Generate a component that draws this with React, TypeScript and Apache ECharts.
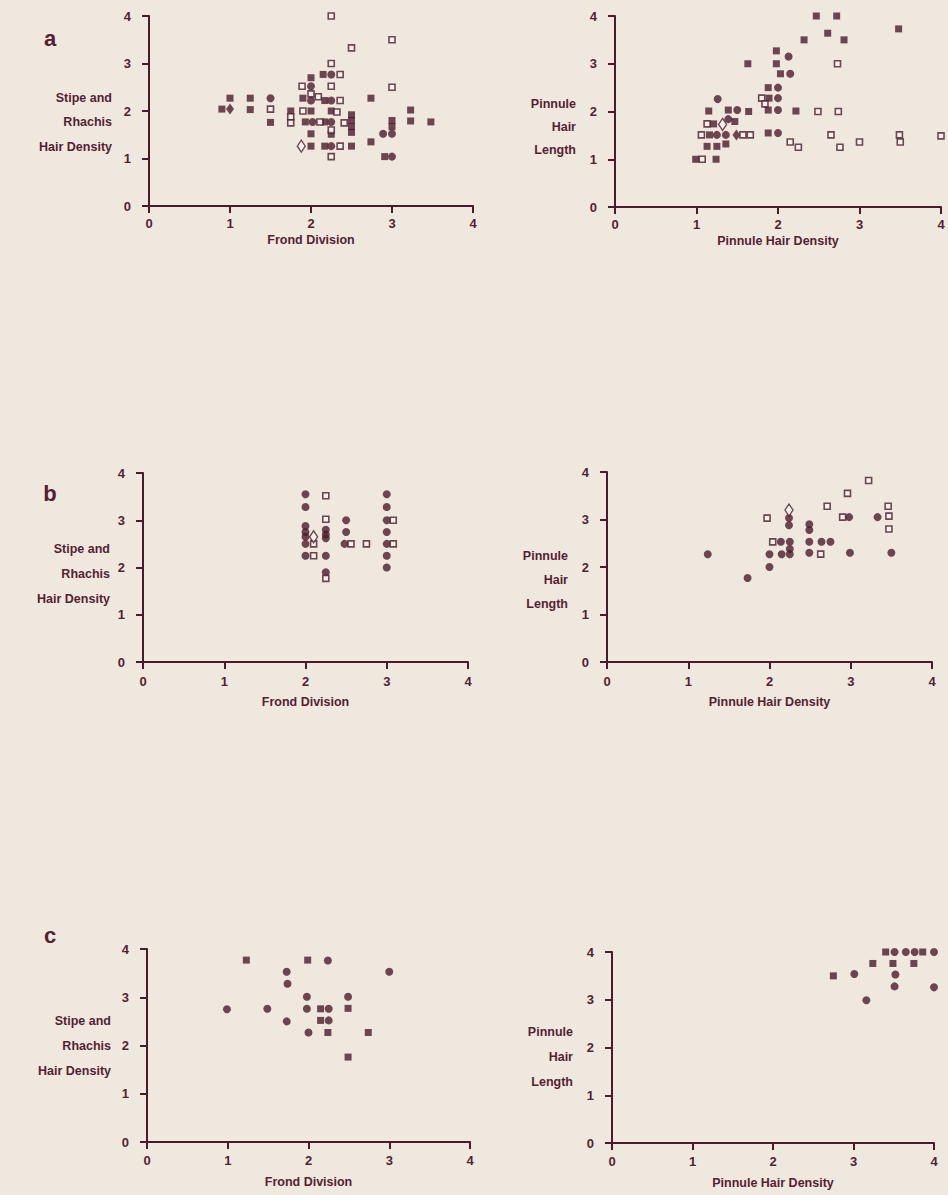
import React, { useEffect, useRef } from "react";
import * as echarts from "echarts";

// ---------- DATA ----------
// Panel a, left (Frond Division vs Stipe and Rhachis Hair Density)
const aLeftFilledSquares = [
  [0.9, 2.04], [1, 2.27], [1.25, 2.27], [1.25, 2.03], [1.5, 1.76], [1.75, 2.0], [1.9, 2.27],
  [2.0, 2.7], [2.15, 2.77], [2.0, 2.0], [2.25, 2.0], [2.17, 2.22], [1.93, 1.77], [2.17, 1.77],
  [2.0, 1.52], [2.25, 1.51], [2.5, 1.92], [2.5, 1.8], [2.5, 1.67], [2.5, 1.55], [2.74, 2.27],
  [2.74, 1.35], [2.0, 1.26], [2.17, 1.26], [2.5, 1.26], [3.0, 1.8], [3.0, 1.67], [3.23, 2.02],
  [3.23, 1.79], [3.48, 1.77], [2.91, 1.04],
];
const aLeftFilledCircles = [
  [1.5, 2.27], [2.25, 2.77], [2.0, 2.52], [2.0, 2.22], [2.25, 2.22], [2.02, 1.77], [2.25, 1.77],
  [2.25, 1.26], [2.89, 1.52], [3.0, 1.52], [3.0, 1.04],
];
const aLeftOpenSquares = [
  [2.25, 4], [2.5, 3.33], [3, 3.5], [2.25, 3], [2.36, 2.77], [1.89, 2.52], [2.25, 2.52], [3, 2.5],
  [2.0, 2.36], [2.09, 2.3], [2.36, 2.22], [1.5, 2.04], [1.75, 1.88], [1.75, 1.75], [1.9, 2.0],
  [2.32, 1.98], [2.11, 1.77], [2.41, 1.75], [2.25, 1.6], [2.36, 1.26], [2.25, 1.04],
];
const aLeftFilledDiamonds = [[1.0, 2.04]];
const aLeftOpenDiamonds = [[1.88, 1.26]];

// Panel a, right (Pinnule Hair Density vs Pinnule Hair Length)
const aRightFilledSquares = [
  [2.47, 4], [2.72, 4], [2.61, 3.64], [2.32, 3.5], [2.81, 3.5], [3.48, 3.73], [1.98, 3.27],
  [1.63, 3], [1.98, 3], [2.03, 2.79], [1.88, 2.5], [1.89, 2.28], [1.15, 2.01], [1.39, 2.03],
  [1.64, 2.0], [1.88, 2.03], [2.22, 2.01], [1.47, 1.79], [1.21, 1.74], [1.16, 1.51], [1.88, 1.55],
  [1.13, 1.27], [1.25, 1.27], [1.36, 1.32], [0.99, 1.0], [1.24, 1.0],
];
const aRightFilledCircles = [
  [2.13, 3.15], [2.15, 2.79], [2.0, 2.5], [2.0, 2.28], [1.26, 2.26], [1.5, 2.03], [2.0, 2.03],
  [1.39, 1.84], [1.25, 1.51], [1.36, 1.51], [2.0, 1.55],
];
const aRightOpenSquares = [
  [2.73, 3.0], [1.8, 2.28], [1.84, 2.16], [2.49, 2.0], [2.74, 2.0], [1.13, 1.74], [1.06, 1.51],
  [1.57, 1.51], [1.66, 1.51], [2.15, 1.36], [2.25, 1.25], [2.65, 1.51], [2.76, 1.25], [3.0, 1.36],
  [3.49, 1.51], [3.5, 1.36], [4.0, 1.49], [1.07, 1.0],
];
const aRightFilledDiamonds = [[1.49, 1.51]];
const aRightOpenDiamonds = [[1.32, 1.73]];

// Panel b, left
const bLeftFilledCircles = [
  [2, 3.55], [2, 3.28], [2, 2.88], [2, 2.75], [2, 2.65], [2, 2.5], [2, 2.25], [2.25, 2.8],
  [2.25, 2.7], [2.25, 2.62], [2.25, 2.25], [2.25, 1.9], [2.5, 3.0], [2.5, 2.75], [2.48, 2.5],
  [3, 3.55], [3, 3.28], [3, 3.0], [3, 2.75], [3, 2.5], [3, 2.25], [3, 2.0],
];
const bLeftOpenSquares = [
  [2.1, 2.5], [2.1, 2.25], [2.25, 3.52], [2.25, 3.02], [2.25, 1.77], [2.56, 2.5], [2.75, 2.5],
  [3.08, 3.0], [3.08, 2.5],
];
const bLeftOpenDiamonds = [[2.1, 2.65]];

// Panel b, right
const bRightFilledCircles = [
  [1.24, 2.27], [1.73, 1.77], [2.0, 2.0], [2.0, 2.27], [2.24, 3.03], [2.24, 2.88], [2.14, 2.53],
  [2.25, 2.53], [2.15, 2.27], [2.25, 2.38], [2.25, 2.27], [2.49, 2.9], [2.49, 2.78], [2.49, 2.53],
  [2.64, 2.53], [2.75, 2.53], [2.49, 2.3], [2.98, 3.05], [2.99, 2.3], [3.33, 3.05], [3.5, 2.3],
];
const bRightOpenSquares = [
  [1.97, 3.03], [2.04, 2.53], [2.63, 2.27], [2.71, 3.28], [2.96, 3.55], [3.22, 3.82], [2.9, 3.05],
  [3.46, 3.28], [3.47, 3.07], [3.47, 2.8],
];
const bRightOpenDiamonds = [[2.24, 3.2]];

// Panel c, left
const cLeftFilledSquares = [
  [1.23, 3.77], [1.99, 3.77], [2.15, 2.76], [2.15, 2.52], [2.24, 2.27], [2.49, 2.77], [2.49, 1.76],
  [2.74, 2.27],
];
const cLeftFilledCircles = [
  [0.99, 2.75], [1.49, 2.76], [1.73, 3.53], [1.74, 3.28], [1.73, 2.5], [1.98, 3.01], [1.98, 2.76],
  [2.0, 2.27], [2.24, 4.02], [2.24, 3.76], [2.25, 2.76], [2.25, 2.52], [2.49, 3.01], [3.0, 3.53],
];

// Panel c, right
const cRightFilledSquares = [
  [2.75, 3.5], [3.24, 3.76], [3.4, 4.0], [3.49, 3.76], [3.86, 4.0], [3.75, 3.76],
];
const cRightFilledCircles = [
  [2.85, 4.02], [3.01, 3.54], [3.16, 2.99], [3.51, 4.0], [3.52, 3.53], [3.51, 3.28], [3.65, 4.0],
  [3.76, 4.0], [4.0, 4.0], [4.0, 3.26],
];

const axisTicks = [0, 1, 2, 3, 4];
const xTitles = ["Frond Division", "Pinnule Hair Density"];
const yTitlesLeft = ["Stipe and", "Rhachis", "Hair Density"];
const yTitlesRight = ["Pinnule", "Hair", "Length"];
const panelLetters = ["a", "b", "c"];

// ---------- STYLE ----------
const C = "#4d1a2d";
const TXT = "#561e33";
const BG = "#efe8df";
const FONT = "'Liberation Sans', Arial, sans-serif";

const grids = [
  { left: 149, top: 16, width: 324, height: 190 },
  { left: 615, top: 16, width: 326, height: 191 },
  { left: 143, top: 473, width: 325, height: 189 },
  { left: 607, top: 472, width: 325, height: 190 },
  { left: 147, top: 949, width: 323, height: 193 },
  { left: 612, top: 952, width: 322, height: 191 },
];
const xLabelMargins = [11, 11, 13, 13, 12, 12];
const xNameGaps = [27, 27, 33, 33, 33, 33];

function mk(data: number[][], kind: string, gi: number) {
  const base: any = {
    type: "scatter",
    xAxisIndex: gi,
    yAxisIndex: gi,
    data,
    z: kind.startsWith("open") ? 3 : 2,
  };
  if (kind === "fsq") {
    base.symbol = "rect";
    base.symbolSize = 7;
    base.itemStyle = { color: C };
  } else if (kind === "fci") {
    base.symbol = "circle";
    base.symbolSize = 8;
    base.itemStyle = { color: C };
  } else if (kind === "openSq") {
    base.symbol = "rect";
    base.symbolSize = 6;
    base.itemStyle = { color: "#f8f4ef", borderColor: C, borderWidth: 1.6 };
  } else if (kind === "fdi") {
    base.symbol = "diamond";
    base.symbolSize = [8, 11];
    base.itemStyle = { color: C };
  } else if (kind === "openDi") {
    base.symbol = "diamond";
    base.symbolSize = [8, 12];
    base.itemStyle = { color: "#f8f4ef", borderColor: C, borderWidth: 1.4 };
  }
  return base;
}

export default function App() {
  const ref = useRef<HTMLDivElement>(null);
  useEffect(() => {
    if (!ref.current) return;
    const chart = echarts.init(ref.current, undefined, { renderer: "svg" });

    const xAxis = grids.map((_, i) => ({
      type: "value",
      gridIndex: i,
      min: axisTicks[0],
      max: axisTicks[axisTicks.length - 1],
      interval: 1,
      splitLine: { show: false },
      axisLine: { show: true, onZero: false, lineStyle: { color: C, width: 2 } },
      axisTick: { show: true, inside: false, length: 7, lineStyle: { color: C, width: 2 } },
      axisLabel: { color: TXT, fontSize: 13, fontWeight: "bold", fontFamily: FONT, margin: xLabelMargins[i] },
      name: xTitles[i % 2],
      nameLocation: "middle",
      nameGap: xNameGaps[i],
      nameTextStyle: { color: TXT, fontSize: 12.5, fontWeight: "bold", fontFamily: FONT },
    }));
    const yAxis = grids.map((_, i) => ({
      type: "value",
      gridIndex: i,
      min: axisTicks[0],
      max: axisTicks[axisTicks.length - 1],
      interval: 1,
      splitLine: { show: false },
      axisLine: { show: true, onZero: false, lineStyle: { color: C, width: 2 } },
      axisTick: { show: true, inside: false, length: 7, lineStyle: { color: C, width: 2 } },
      axisLabel: { color: TXT, fontSize: 13, fontWeight: "bold", fontFamily: FONT, margin: 18 },
    }));

    const series = [
      mk(aLeftFilledSquares, "fsq", 0),
      mk(aLeftFilledCircles, "fci", 0),
      mk(aLeftOpenSquares, "openSq", 0),
      mk(aLeftFilledDiamonds, "fdi", 0),
      mk(aLeftOpenDiamonds, "openDi", 0),
      mk(aRightFilledSquares, "fsq", 1),
      mk(aRightFilledCircles, "fci", 1),
      mk(aRightOpenSquares, "openSq", 1),
      mk(aRightFilledDiamonds, "fdi", 1),
      mk(aRightOpenDiamonds, "openDi", 1),
      mk(bLeftFilledCircles, "fci", 2),
      mk(bLeftOpenSquares, "openSq", 2),
      mk(bLeftOpenDiamonds, "openDi", 2),
      mk(bRightFilledCircles, "fci", 3),
      mk(bRightOpenSquares, "openSq", 3),
      mk(bRightOpenDiamonds, "openDi", 3),
      mk(cLeftFilledSquares, "fsq", 4),
      mk(cLeftFilledCircles, "fci", 4),
      mk(cRightFilledSquares, "fsq", 5),
      mk(cRightFilledCircles, "fci", 5),
    ];

    const titleText = (x: number, y: number, t: string) => ({
      type: "text",
      x,
      y,
      style: {
        text: t,
        fill: TXT,
        font: `bold 12.5px ${FONT}`,
        textAlign: "right",
        textVerticalAlign: "middle",
      },
    });

    const leftTitleRight = [112, 110, 111];
    const rightTitleRight = [576, 568, 573];
    const leftYs = [
      [98, 122, 147],
      [549, 574, 599],
      [1021, 1046, 1071],
    ];
    const rightYs = [
      [104, 127, 150],
      [556, 580, 604],
      [1032, 1057, 1082],
    ];
    const letterYs = [38, 493, 935];

    const graphic: any[] = [];
    for (let p = 0; p < 3; p++) {
      yTitlesLeft.forEach((t, k) => graphic.push(titleText(leftTitleRight[p], leftYs[p][k], t)));
      yTitlesRight.forEach((t, k) => graphic.push(titleText(rightTitleRight[p], rightYs[p][k], t)));
      graphic.push({
        type: "text",
        x: 50,
        y: letterYs[p],
        style: {
          text: panelLetters[p],
          fill: TXT,
          font: `bold 22px ${FONT}`,
          textAlign: "center",
          textVerticalAlign: "middle",
        },
      });
    }

    chart.setOption({
      animation: false,
      backgroundColor: BG,
      grid: grids,
      xAxis,
      yAxis,
      series,
      graphic,
    });
    return () => chart.dispose();
  }, []);

  return (
    <div
      ref={ref}
      style={{ position: "absolute", left: 0, top: 0, width: 948, height: 1195 }}
    />
  );
}
